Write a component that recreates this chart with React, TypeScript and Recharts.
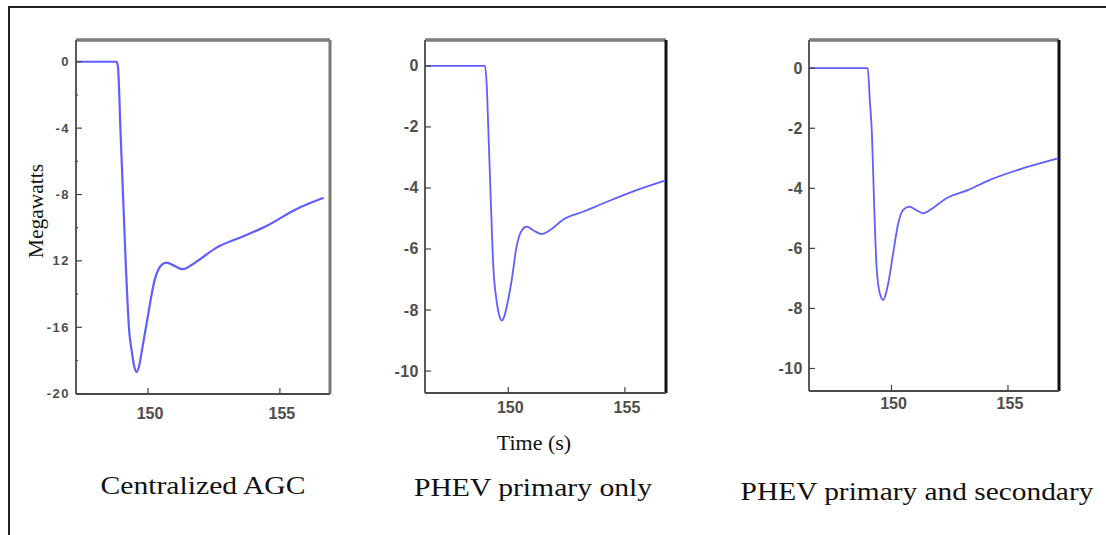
import { LineChart, Line, XAxis, YAxis, ReferenceLine } from 'recharts'

// Centralized AGC
const agcTime = [147.27, 148.81, 148.86, 148.96, 149.06, 149.16, 149.29, 149.38, 149.47, 149.57, 149.66, 149.78, 149.9, 150.02, 150.14, 150.26, 150.4, 150.55, 150.71, 151.0, 151.33, 151.65, 151.97, 152.6, 153.48, 154.49, 155.6, 156.66]
const agcMw = [0, 0, -0.3, -4.3, -8.3, -12.3, -16.3, -17.4, -18.3, -18.7, -18.35, -17.3, -16.2, -15.1, -14.0, -13.1, -12.5, -12.2, -12.1, -12.3, -12.5, -12.25, -11.9, -11.2, -10.6, -9.9, -8.9, -8.2]
const agcTicks = [0, -2, -4, -6, -8, -10, -12, -14, -16, -18, -20]
const agcTickLabels = ['0', '', '-4', '', '-8', '', '12', '', '-16', '', '-20']

// PHEV primary only
const primaryTime = [146.43, 149.0, 149.08, 149.15, 149.25, 149.36, 149.5, 149.62, 149.72, 149.83, 149.93, 150.15, 150.36, 150.57, 150.79, 151.1, 151.43, 151.79, 152.36, 153.2, 154.08, 155.5, 156.72]
const primaryMw = [0, 0, -0.7, -2.2, -4.4, -6.6, -7.7, -8.2, -8.35, -8.2, -7.9, -7.0, -5.9, -5.4, -5.27, -5.4, -5.51, -5.38, -5.03, -4.78, -4.5, -4.07, -3.76]

// PHEV primary and secondary
const bothTime = [146.46, 148.98, 149.07, 149.16, 149.25, 149.36, 149.5, 149.65, 149.76, 149.86, 150.07, 150.29, 150.5, 150.76, 151.05, 151.36, 151.65, 152.36, 153.3, 154.22, 155.65, 157.15]
const bothMw = [0, 0, -1.06, -2.17, -4.39, -6.61, -7.5, -7.72, -7.5, -7.17, -6.17, -5.17, -4.72, -4.61, -4.72, -4.83, -4.72, -4.33, -4.05, -3.72, -3.33, -3.0]

const pheTicks = [0, -2, -4, -6, -8, -10]
const pheTickLabels = ['0', '-2', '-4', '-6', '-8', '-10']
const xTicks = [150, 155]

const BLUE = '#5f5fff'
const TICK_FILL = '#4d4d4d'
const sans = "'Liberation Sans', Arial, sans-serif"

type PanelProps = {
  time: number[]
  mw: number[]
  left: number
  top: number
  right: number
  bottom: number
  xDomain: [number, number]
  yDomain: [number, number]
  yTicks: number[]
  yLabels: string[]
  yFont: number
  ySpacing: number
  xGap: number
  rightColor: string
  lineWidth: number
}

function Panel(p: PanelProps) {
  const data = p.time.map((t, i) => ({ t, mw: p.mw[i] }))
  const axisW = 70
  const width = p.right - p.left + axisW + 10
  const height = p.bottom + 50

  const yTick = (props: any) => {
    const { x, y, payload } = props
    const idx = p.yTicks.indexOf(payload.value)
    const label = idx >= 0 ? p.yLabels[idx] : ''
    const major = label !== ''
    return (
      <g>
        <line x1={x} x2={x + (major ? 6 : 2)} y1={y} y2={y} stroke="#444" strokeWidth={1.2} />
        {major && (
          <text x={x - 6} y={y} textAnchor="end" dominantBaseline="central" letterSpacing={p.ySpacing}
            fontFamily={sans} fontWeight="bold" fontSize={p.yFont} fill={TICK_FILL}>
            {label}
          </text>
        )}
      </g>
    )
  }

  const xTick = (props: any) => {
    const { x, y, payload } = props
    return (
      <g>
        <line x1={x} x2={x} y1={y} y2={y - 6} stroke="#444" strokeWidth={1.2} />
        <text x={x + 2} y={y + p.xGap} textAnchor="middle" dominantBaseline="central"
          fontFamily={sans} fontWeight="bold" fontSize={16} fill={TICK_FILL}>
          {payload.value}
        </text>
      </g>
    )
  }

  return (
    <div style={{ position: 'absolute', left: p.left - axisW, top: 0 }}>
      <LineChart width={width} height={height} data={data}
        margin={{ top: p.top, right: 10, bottom: 0, left: 0 }}>
        <XAxis dataKey="t" type="number" domain={p.xDomain} allowDataOverflow ticks={xTicks}
          interval={0} height={50} tickSize={0} tickMargin={0} tickLine={false} tick={xTick}
          axisLine={{ stroke: '#4a4a4a', strokeWidth: 2 }} />
        <YAxis type="number" domain={p.yDomain} allowDataOverflow ticks={p.yTicks} interval={0}
          width={axisW} tickSize={0} tickMargin={0} tickLine={false} tick={yTick}
          axisLine={{ stroke: '#5a5a5a', strokeWidth: 2 }} />
        {/* box frame: top and right edges */}
        <ReferenceLine y={p.yDomain[1]} stroke="#7d7d7d" strokeWidth={3.5} ifOverflow="visible" />
        <ReferenceLine x={p.xDomain[1]} stroke={p.rightColor} strokeWidth={3} ifOverflow="visible" />
        <Line type="monotone" dataKey="mw" stroke={BLUE} strokeWidth={p.lineWidth}
          dot={false} isAnimationActive={false} />
      </LineChart>
    </div>
  )
}

const serif = "'Liberation Serif', 'Times New Roman', serif"

function Caption({ x, y, size, text, stretch = 1 }: { x: number; y: number; size: number; text: string; stretch?: number }) {
  return (
    <div style={{
      position: 'absolute', left: x, top: y, fontFamily: serif, fontSize: size, lineHeight: 1,
      whiteSpace: 'nowrap', color: '#111',
      transform: `translate(-50%, -50%) scaleX(${stretch})`,
    }}>
      {text}
    </div>
  )
}

export default function App() {
  return (
    <div style={{ position: 'absolute', left: 0, top: 0, width: 1106, height: 535, background: '#fff', overflow: 'hidden' }}>
      <div style={{ position: 'absolute', left: 8, top: 6, width: 1098, height: 529, borderTop: '2px solid #222', borderLeft: '2px solid #222' }} />

      <Panel time={agcTime} mw={agcMw} left={76} top={40} right={330} bottom={394}
        xDomain={[147.27, 156.9]} yDomain={[-20.02, 1.31]} yTicks={agcTicks} yLabels={agcTickLabels}
        yFont={13} ySpacing={1.5} xGap={19} rightColor="#7a7a7a" lineWidth={2.2} />
      <Panel time={primaryTime} mw={primaryMw} left={425} top={40} right={666} bottom={393}
        xDomain={[146.43, 156.76]} yDomain={[-10.72, 0.85]} yTicks={pheTicks} yLabels={pheTickLabels}
        yFont={16} ySpacing={0.5} xGap={14} rightColor="#111" lineWidth={1.8} />
      <Panel time={bothTime} mw={bothMw} left={809} top={40} right={1059} bottom={391}
        xDomain={[146.46, 157.19]} yDomain={[-10.75, 0.94]} yTicks={pheTicks} yLabels={pheTickLabels}
        yFont={16} ySpacing={0.5} xGap={12} rightColor="#111" lineWidth={1.8} />

      <div style={{
        position: 'absolute', left: 37, top: 211, fontFamily: serif, fontSize: 21.5, lineHeight: 1,
        whiteSpace: 'nowrap', color: '#111', transform: 'translate(-50%, -50%) rotate(-90deg)',
      }}>
        Megawatts
      </div>
      <Caption x={534} y={443} size={22} text="Time (s)" />
      <Caption x={203} y={486} size={26} stretch={1.14} text="Centralized AGC" />
      <Caption x={533} y={488} size={26} stretch={1.14} text="PHEV primary only" />
      <Caption x={917} y={492} size={26} stretch={1.13} text="PHEV primary and secondary" />
    </div>
  )
}
